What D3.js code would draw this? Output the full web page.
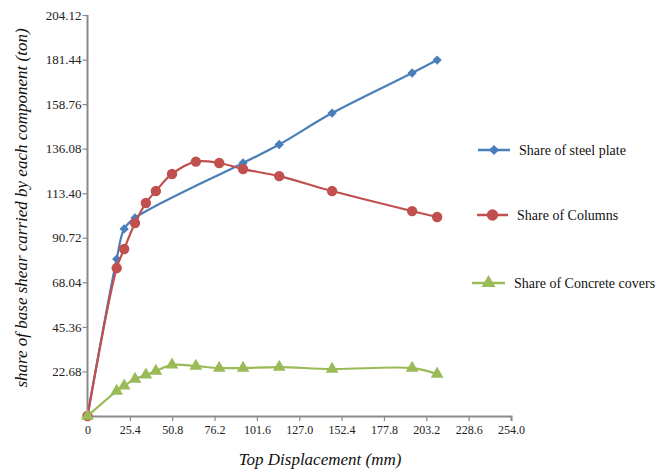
<!DOCTYPE html>
<html>
<head>
<meta charset="utf-8">
<script src="https://cdn.jsdelivr.net/npm/d3@7/dist/d3.min.js"></script>
<style>
  html, body { margin: 0; padding: 0; background: #fff; }
  svg { display: block; }
  svg text { font-family: "Liberation Serif", "DejaVu Serif", serif !important; }
  .tick text { fill: #222; }
</style>
</head>
<body>
<svg id="chart" width="667" height="470"></svg>
<script>
// Top displacement (mm) for the columns and concrete-cover series
const displacement = [0, 17.5, 22, 28.5, 35, 41, 50.7, 65, 79, 93.3, 115, 146.7, 194.7, 209.7];
// Top displacement (mm) for the steel-plate series
const steelDisplacement = [0, 17.5, 22, 28.5, 93.3, 115, 146.7, 194.7, 209.7];

// Share of base shear (ton)
const steelPlate = [0, 79.9, 95.2, 100.8, 128.8, 138.2, 154.2, 174.6, 181.2];
const columns = [0, 75.3, 85.0, 98.2, 108.4, 114.5, 123.2, 129.5, 128.8, 125.7, 122.1, 114.5, 104.3, 101.3];
const concreteCovers = [0, 12.7, 15.3, 18.8, 20.9, 22.9, 26.0, 25.4, 24.4, 24.4, 24.9, 23.9, 24.4, 21.4];

const xTicks = [0, 25.4, 50.8, 76.2, 101.6, 127.0, 152.4, 177.8, 203.2, 228.6, 254.0];
const yTicks = [22.68, 45.36, 68.04, 90.72, 113.40, 136.08, 158.76, 181.44, 204.12];

const seriesNames = ["Share of steel plate", "Share of Columns", "Share of Concrete covers"];

const svg = d3.select("#chart");
const plotLeft = 87.5, plotRight = 511, plotTop = 15, plotBottom = 416;
const serif = "'Liberation Serif', 'DejaVu Serif', serif";

const x = d3.scaleLinear().domain([0, 254]).range([plotLeft, plotRight]);
const y = d3.scaleLinear().domain([0, 204.12]).range([plotBottom, plotTop]);

const axisColor = "#8a8a8a";

// X axis
const xAxis = svg.append("g")
  .attr("transform", `translate(0,${plotBottom})`)
  .call(d3.axisBottom(x).tickValues(xTicks).tickSize(5).tickPadding(4)
    .tickFormat(d => d === 0 ? "0" : d3.format(".1f")(d)));
xAxis.attr("font-family", null);
xAxis.select(".domain").attr("stroke", axisColor).attr("stroke-width", 2);
xAxis.selectAll(".tick line").attr("stroke", axisColor).attr("stroke-width", 1.2);
xAxis.selectAll(".tick text").style("font-family", serif).attr("font-size", 12);

// Y axis
const yAxis = svg.append("g")
  .attr("transform", `translate(${plotLeft},0)`)
  .call(d3.axisLeft(y).tickValues(yTicks).tickSize(5).tickPadding(1)
    .tickFormat(d3.format(".2f")));
yAxis.attr("font-family", null);
yAxis.select(".domain").attr("stroke", axisColor).attr("stroke-width", 2)
  .attr("d", `M-0,${plotTop}V${plotBottom}`);
yAxis.selectAll(".tick line").attr("stroke", axisColor).attr("stroke-width", 1.2);
yAxis.selectAll(".tick text").style("font-family", serif).attr("font-size", 13);

// Axis titles
svg.append("text")
  .attr("x", 320).attr("y", 465)
  .attr("text-anchor", "middle")
  .style("font-family", serif)
  .attr("font-style", "italic")
  .attr("font-size", 17)
  .attr("fill", "#111")
  .text("Top Displacement (mm)");

svg.append("text")
  .attr("transform", "translate(27,208) rotate(-90)")
  .attr("text-anchor", "middle")
  .style("font-family", serif)
  .attr("font-style", "italic")
  .attr("font-size", 17)
  .attr("fill", "#111")
  .text("share of base shear carried by each component (ton)");

const series = [
  { name: seriesNames[0], xs: steelDisplacement, ys: steelPlate, color: "#4a7ebb", symbol: d3.symbolDiamond2, size: 55 },
  { name: seriesNames[1], xs: displacement, ys: columns, color: "#c0504d", symbol: d3.symbolCircle, size: 85 },
  { name: seriesNames[2], xs: displacement, ys: concreteCovers, color: "#9bbb59", symbol: d3.symbolTriangle, size: 70 }
];

const line = d3.line()
  .x(d => x(d[0]))
  .y(d => y(d[1]))
  .curve(d3.curveCatmullRom.alpha(0.5));

series.forEach(s => {
  const pts = s.xs.map((v, i) => [v, s.ys[i]]);
  const g = svg.append("g");
  g.append("path")
    .attr("d", line(pts))
    .attr("fill", "none")
    .attr("stroke", s.color)
    .attr("stroke-width", 2.2);
  g.selectAll("path.marker")
    .data(pts)
    .join("path")
    .attr("class", "marker")
    .attr("transform", d => `translate(${x(d[0])},${y(d[1])})`)
    .attr("d", d3.symbol().type(s.symbol).size(s.size))
    .attr("fill", s.color);
});

// Legend
const legendRows = [150, 215, 283];
const legendLine = [[478, 510], [477, 508], [472, 505]];
series.forEach((s, i) => {
  const g = svg.append("g");
  const [x0, x1] = legendLine[i];
  const cy = legendRows[i];
  g.append("line")
    .attr("x1", x0).attr("x2", x1)
    .attr("y1", cy).attr("y2", cy)
    .attr("stroke", s.color).attr("stroke-width", 2.5);
  g.append("path")
    .attr("transform", `translate(${(x0 + x1) / 2},${cy})`)
    .attr("d", d3.symbol().type(s.symbol).size(s.size * 1.2))
    .attr("fill", s.color);
  g.append("text")
    .attr("x", x1 + 9).attr("y", cy + 5)
    .style("font-family", serif)
    .attr("font-size", 14)
    .attr("fill", "#111")
    .text(s.name);
});
</script>
</body>
</html>
